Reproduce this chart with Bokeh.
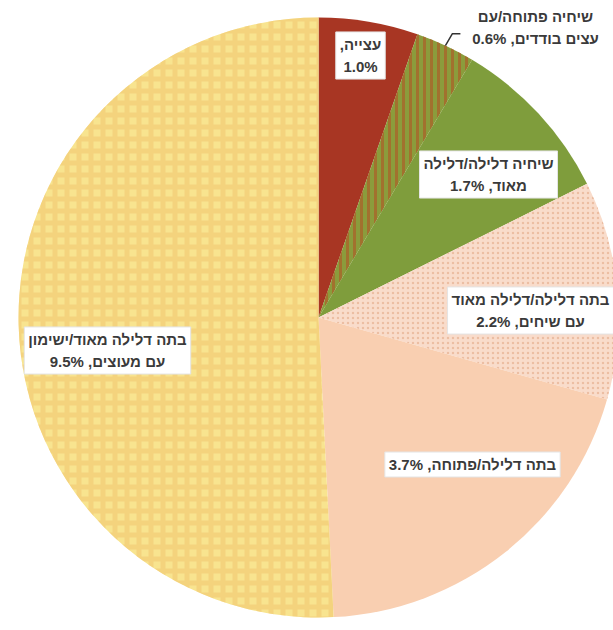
import math
from bokeh.plotting import figure
from bokeh.models import ColumnDataSource, Range1d
from bokeh.core.properties import value
from bokeh.embed import file_html
from bokeh.resources import INLINE

# ---- data ----
categories = [
    "עצייה",
    "שיחיה פתוחה/עם עצים בודדים",
    "שיחיה דלילה/דלילה מאוד",
    "בתה דלילה/דלילה מאוד עם שיחים",
    "בתה דלילה/פתוחה",
    "בתה דלילה מאוד/ישימון עם מעוצים",
]
values = [1.0, 0.6, 1.7, 2.2, 3.7, 9.5]
label_texts = [
    "עצייה,\u200F\n1.0%",
    "שיחיה פתוחה/עם\nעצים בודדים, 0.6%",
    "שיחיה דלילה/דלילה\nמאוד, 1.7%",
    "בתה דלילה/דלילה מאוד\nעם שיחים, 2.2%",
    "בתה דלילה/פתוחה, 3.7%",
    "בתה דלילה מאוד/ישימון\nעם מעוצים, 9.5%",
]

# ---- styles / layout ----
W, H = 613, 630
CX, CY, R = 318, H - 317, 300
fills = ["#a83623", "#8b9c3c", "#7f9d3c", "#f9dccb", "#f9cfb1", "#f8e48f"]
hatches = [None, "vertical_line", None, "dot", None, "cross"]
hatch_colors = ["#a83623", "#a8662a", "#7f9d3c", "#e8b698", "#f9cfb1", "#f0c470"]
hatch_scales = [8, 7, 8, 5, 8, 12]
hatch_weights = [1, 3, 1, 1.5, 1, 5]
hatch_alphas = [1, 0.8, 1, 0.8, 1, 0.55]
# label centres in pixel coordinates (x, y from top)
label_px = [(360, 55), (535, 27), (488, 174), (530, 310), (472, 464), (107, 350)]
label_bg = [1, 0, 1, 1, 1, 1]

total = sum(values)
starts, ends = [], []
acc = 0.0
for v in values:
    a0 = acc / total * 2 * math.pi
    acc += v
    a1 = acc / total * 2 * math.pi
    starts.append(math.pi / 2 - a0)
    ends.append(math.pi / 2 - a1)

p = figure(width=W, height=H, output_backend="svg", toolbar_location=None,
           x_range=Range1d(0, W), y_range=Range1d(0, H),
           x_axis_type=None, y_axis_type=None, min_border=0,
           outline_line_color=None)
p.grid.visible = False
p.background_fill_color = "white"

for i in range(len(values)):
    kw = {}
    if hatches[i]:
        kw = dict(hatch_pattern=hatches[i], hatch_color=hatch_colors[i],
                  hatch_scale=hatch_scales[i], hatch_weight=hatch_weights[i],
                  hatch_alpha=hatch_alphas[i])
    p.wedge(x=CX, y=CY, radius=R, start_angle=starts[i], end_angle=ends[i],
            direction="clock", fill_color=fills[i], line_color=None, **kw)

# leader line for the small hatched slice
mid = (starts[1] + ends[1]) / 2
x0 = CX + R * math.cos(mid)
y0 = CY + R * math.sin(mid)
p.line([x0, x0 + 7, x0 + 15], [y0, y0 + 12, y0 + 12], line_color="#333333", line_width=1.5)

src_box = ColumnDataSource(dict(
    x=[label_px[i][0] for i in range(6) if label_bg[i]],
    y=[H - label_px[i][1] for i in range(6) if label_bg[i]],
    t=[label_texts[i] for i in range(6) if label_bg[i]],
))
p.text(x="x", y="y", text="t", source=src_box, text_align="center",
       text_baseline="middle", text_font=value("Liberation Sans"),
       text_font_style="bold", text_font_size="15px", text_color="#3a3a3a",
       text_line_height=1.3, background_fill_color="white",
       border_line_color="#e4e4e4", padding=4)

src_plain = ColumnDataSource(dict(
    x=[label_px[i][0] for i in range(6) if not label_bg[i]],
    y=[H - label_px[i][1] for i in range(6) if not label_bg[i]],
    t=[label_texts[i] for i in range(6) if not label_bg[i]],
))
p.text(x="x", y="y", text="t", source=src_plain, text_align="center",
       text_baseline="middle", text_font=value("Liberation Sans"),
       text_font_style="bold", text_font_size="15px", text_color="#3a3a3a",
       text_line_height=1.3)

open("out.html", "w").write(file_html(p, INLINE))
